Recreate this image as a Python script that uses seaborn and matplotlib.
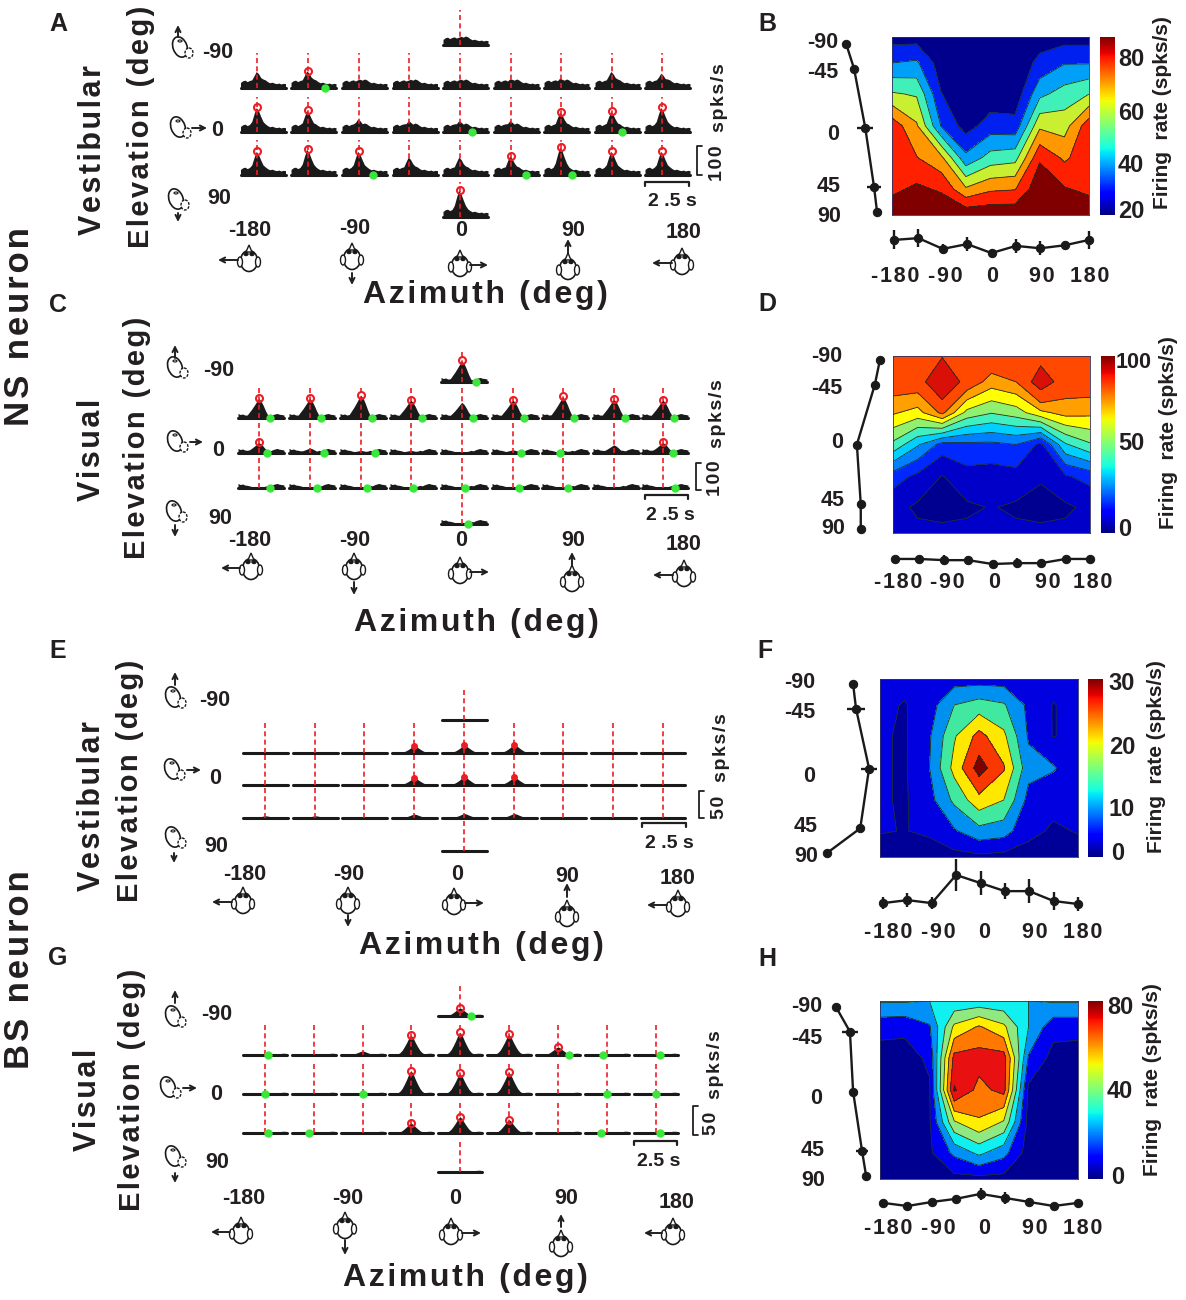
import numpy as np
import matplotlib
matplotlib.use("Agg")
import matplotlib.pyplot as plt
import seaborn as sns
from matplotlib.cm import ScalarMappable
from matplotlib.colors import Normalize
from matplotlib.patches import Ellipse, Polygon

W, H = 1186, 1300

# psth time axis, 21 bins over 2.5 s
TIME = np.arange(21) * 0.125

# psth shapes read from the cells, background in spks/s, peak normalised
BASE_A = [19, 25, 27, 22, 26, 28, 24, 27, 30, 27, 31, 28, 22, 18, 20, 17, 15, 17, 14, 16, 15]
BASE_C = [17, 13, 15, 11, 10, 8, 5, 3, 2, 2, 3, 5, 7, 10, 8, 12, 15, 17, 14, 13, 11]
BASE_E = [1.5, 1.5, 1.8, 1.5, 1.6, 2, 1.5, 1.5, 1.8, 1.6, 1.5, 1.8, 2, 1.5, 1.5, 1.8, 2, 1.5, 1.6, 2.1, 2]
BASE_G = [1, 1.5, 1, 1.2, 1, .8, .8, .6, .6, .5, .5, .6, .6, .8, 1, 1.3, 2, 2.5, 3, 3, 2.5]
PEAK_A = [0, 0, .04, .1, .22, .42, .72, .98, .85, .62, .42, .25, .13, .06, .02, 0, 0, 0, 0, 0, 0]
PEAK_C = [0, 0, 0, .05, .15, .3, .45, .62, .8, .98, .85, .62, .35, .12, 0, 0, 0, 0, 0, 0, 0]
PEAK_E = [0, 0, 0, 0, .06, .14, .26, .42, .62, .85, 1, .88, .66, .46, .28, .14, .06, .02, 0, 0, 0]
PEAK_G = [0, 0, 0, 0, .05, .12, .24, .42, .62, .85, 1, .85, .62, .42, .24, .12, .05, 0, 0, 0, 0]

# peak height per cell (spks/s), rows are -90, -45, 0, 45, 90 elevation
HEIGHT_A = [[25], [58, 60, 29, 25, 29, 32, 35, 58, 52], [86, 75, 46, 40, 40, 40, 69, 71, 86],
            [83, 90, 83, 63, 63, 67, 98, 83, 83], [94]]
HEIGHT_C = [[81], [75, 75, 88, 69, 60, 69, 81, 72, 69], [40, 19, 10, 10, 6, 12, 10, 31, 40],
            [6, 6, 6, 6, 6, 6, 6, 6, 6], [6]]
HEIGHT_E = [[3], [2, 2, 2, 13, 14, 15, 2, 2, 2], [2, 2, 2, 13, 15, 14, 2.5, 2.5, 2.5],
            [4, 4, 2, 7, 8, 8, 2, 2, 3], [3]]
HEIGHT_G = [[14], [2, 2, 7, 34, 39, 35, 14, 2, 2], [2, 2, 2, 40, 35, 37, 2, 2, 2],
            [2, 2, 2, 17, 28, 23, 2, 2, 2], [3]]

# cells with a red (peak) circle
RED_A = [[], [1], [0, 1, 6, 7, 8], [0, 1, 2, 5, 6, 7, 8], [0]]
RED_C = [[0], [0, 1, 2, 3, 5, 6, 7, 8], [0, 8], [], []]
RED_E = [[], [3, 4, 5], [3, 4, 5], [], []]
RED_G = [[0], [3, 4, 5, 6], [3, 4, 5], [3, 4, 5], []]

# green (trough) circles: row, cell, time in s
GREEN_A = [(1, 1, 1.9), (2, 4, 1.6), (2, 7, 1.5), (3, 2, 1.7), (3, 5, 1.75), (3, 6, 1.55)]
GREEN_C = [(0, 0, 1.9), (1, 0, 1.75), (1, 1, 1.75), (1, 2, 1.75), (1, 3, 1.75), (1, 4, 1.75),
           (1, 5, 1.75), (1, 6, 1.75), (1, 7, 1.75), (1, 8, 1.75),
           (2, 0, 1.6), (2, 1, 1.9), (2, 2, 1.9), (2, 5, 1.6), (2, 6, 1.0), (2, 8, 1.7),
           (3, 0, 1.75), (3, 1, 1.5), (3, 2, 1.45), (3, 3, 1.25), (3, 4, 1.3), (3, 5, 1.45),
           (3, 6, 1.4), (3, 8, 1.8), (4, 0, 1.45)]
GREEN_E = []
GREEN_G = [(0, 0, 1.9), (1, 0, 1.4), (1, 6, 1.9), (1, 7, 1.0), (1, 8, 1.5),
           (2, 0, 1.25), (2, 2, 1.25), (2, 7, 1.25), (2, 8, 1.25),
           (3, 0, 1.4), (3, 1, 1.0), (3, 7, .9), (3, 8, 1.5)]

# contour grids, rows run from -90 to 90 with two extra rows read between
AZIMUTH = [-180, -135, -90, -45, 0, 45, 90, 135, 180]
ROW_POS = [0, .146, .32, .5, .68, .854, 1]
Z_B = [[25, 25, 25, 25, 25, 25, 25, 25, 25],
       [37.5, 39, 24, 23, 23, 23, 31, 37, 37],
       [56, 54, 29, 23, 23, 23, 44, 50, 55],
       [78, 65, 37, 25, 33, 32, 62, 60, 78],
       [78, 73, 66, 40, 50, 52, 80, 71, 78],
       [79, 83, 80, 65, 71, 72, 88, 82, 79],
       [88, 88, 88, 88, 88, 88, 88, 88, 88]]
Z_D = [[78, 78, 84, 78, 80, 78, 80, 78, 78],
       [78, 78, 100, 79, 68, 72, 93, 78, 78],
       [65, 61, 74, 53.5, 48.5, 52, 62, 67, 66],
       [46, 33, 21, 22, 22, 24, 14, 39, 47],
       [20, 14, 6.5, 13, 12, 13, 8, 15, 19],
       [10, 5.5, 4, 5.5, 7.5, 5.5, 4, 5.5, 9],
       [9, 9, 9, 9, 9, 9, 9, 9, 9]]
Z_F = [[5, 5, 5.5, 6, 6, 6, 5.5, 5, 5],
       [4.5, 3.2, 6, 12.5, 14.5, 13, 7, 3.3, 5],
       [4, 3, 7.5, 16.5, 23, 18, 7.5, 3.3, 5],
       [4, 3, 8, 18.5, 28, 22, 9.5, 8.5, 5],
       [4, 3, 6.5, 13.5, 20, 17, 6.5, 4.5, 5],
       [3.7, 3.4, 4, 7.5, 11, 10, 4.5, 3, 3.7],
       [2, 2, 2, 2, 2.5, 2, 2, 2, 2]]
Z_H = [[28, 28, 27, 29, 30, 29, 27, 28, 28],
       [12, 11, 17, 47, 55, 47, 27, 12, 12],
       [5, 5.5, 10.5, 66, 67, 67, 17, 6, 5],
       [4, 4, 8, 73, 60, 66, 7, 4, 4],
       [4, 4, 8, 44, 53, 44, 6, 4, 4],
       [4, 4, 7.5, 20, 29, 21, 5, 4, 4],
       [4, 4, 5, 6, 6, 6, 5, 4, 4]]

LEVELS_B = [0, 28.75, 37.5, 46.25, 55, 63.75, 72.5, 81.25, 100]
COLORS_B = ["#00008c", "#0020f0", "#00a0f8", "#40f0b8", "#c8f030", "#ff9800", "#ff2000", "#800000"]
LEVELS_D = [0, 7, 16, 24, 32, 40, 48, 56, 64, 72, 85, 110]
COLORS_D = ["#000090", "#0000c8", "#0028ff", "#0080ff", "#00d0ff", "#40f0c0", "#90f070",
            "#ffff00", "#ffa000", "#ff4800", "#d81008"]
LEVELS_F = [0, 3.5, 8, 12.5, 17, 21.5, 26, 40]
COLORS_F = ["#000098", "#0000e0", "#0090f0", "#40e8a0", "#ffe800", "#f83800", "#800000"]
LEVELS_H = [0, 9, 18, 27, 36, 45, 54, 63, 72, 100]
COLORS_H = ["#000090", "#0000f0", "#0090f8", "#10f0f0", "#90e880", "#ffee00", "#ff7800", "#e81010", "#800000"]

# marginal tuning curves (spks/s)
ELEV_POS = [0, .146, .5, .854, 1]
ELEV_RATE_B = [25, 41, 64, 82, 88]
ELEV_ERR_B = [0, 7.5, 16, 14, 0]
AZ_RATE_B = [62, 65, 47, 55, 40, 52, 48, 53, 62]
AZ_ERR_B = [16, 15, 8, 12, 7, 12, 12, 8, 15]
ELEV_RATE_D = [85, 68, 8, 21, 21]
ELEV_ERR_D = [0, 13, 13, 13, 0]
AZ_RATE_D = [47, 47, 43, 43, 30, 33, 33, 47, 47]
AZ_ERR_D = [3, 3, 17, 13, 3, 17, 10, 3, 3]
ELEV_RATE_F = [9.2, 9.9, 13, 10.9, 3]
ELEV_ERR_F = [0, 2.1, 1.9, 1, 0]
AZ_RATE_F = [3.3, 4.3, 3.3, 12.7, 10, 7.3, 7.3, 4, 3]
AZ_ERR_F = [2, 2.3, 2, 5.3, 4, 2.7, 4, 3, 2.3]
ELEV_RATE_H = [10, 41, 48, 68, 77]
ELEV_ERR_H = [0, 18, 6, 13, 0]
AZ_RATE_H = [17, 10, 19, 26, 37, 28, 19, 10, 17]
AZ_ERR_H = [7, 7, 7, 7, 13, 13, 7, 7, 7]

AZ_LABELS = ["-180", "-90", "0", "90", "180"]
ELEV_LABELS = ["-90", "0", "90"]
ELEV_LABELS_R = ["-90", "-45", "0", "45", "90"]

sns.set_theme(style="white")
plt.rcParams["font.family"] = ["Liberation Sans", "DejaVu Sans"]
plt.rcParams["font.weight"] = "bold"
TXT = "#231f20"

fig = plt.figure(figsize=(W / 100, H / 100), dpi=100)


def px_axes(x0, y0, x1, y1, z=1):
    # axes from pixel box, y measured from the top of the image
    ax = fig.add_axes([x0 / W, 1 - y1 / H, (x1 - x0) / W, (y1 - y0) / H], zorder=z)
    ax.patch.set_alpha(0)
    return ax


over = px_axes(0, 0, W, H, z=10)
over.set_xlim(0, W)
over.set_ylim(H, 0)
over.axis("off")


def label(x, y, s, size=13, rot=0, ha="center"):
    over.text(x, y, s, fontsize=size, rotation=rot, ha=ha, va="center", color=TXT,
              fontweight="bold", rotation_mode="anchor")


def spaced(s):
    return "\u200a".join(s)


def arrow(x0, y0, x1, y1):
    over.annotate("", xy=(x1, y1), xytext=(x0, y0),
                  arrowprops=dict(arrowstyle="->", color=TXT, lw=1.4, mutation_scale=9,
                                  shrinkA=0, shrinkB=0))


def top_head(x, y):
    over.add_patch(Ellipse((x, y + 1), 17, 21, fc="white", ec="k", lw=1.2))
    over.add_patch(Ellipse((x - 9, y + 2), 5, 10, fc="white", ec="k", lw=1))
    over.add_patch(Ellipse((x + 9, y + 2), 5, 10, fc="white", ec="k", lw=1))
    over.add_patch(Polygon([(x - 3, y - 8), (x, y - 15), (x + 3, y - 8)], fc="white", ec="k", lw=1))
    over.add_patch(Ellipse((x - 3, y - 6), 4, 3, fc="k", ec="k"))
    over.add_patch(Ellipse((x + 3, y - 6), 4, 3, fc="k", ec="k"))


def side_head(x, y):
    over.add_patch(Ellipse((x - 2, y - 1), 14, 21, angle=-20, fc="white", ec="k", lw=1.2))
    over.add_patch(Ellipse((x + 7, y + 5), 8, 10, fc="white", ec="k", lw=1, ls=(0, (2, 1))))
    over.add_patch(Ellipse((x - 2, y - 7), 4, 2, fc="none", ec="k", lw=.8))


def psth_panel(xs, cell_w, rows, cell_h, per_unit, heights, base, peak, red_t, reds, greens, red_fill="none", red_ms=5):
    for r, row_h in enumerate(heights):
        for c, h_val in enumerate(row_h):
            x0 = xs[4] if len(row_h) == 1 else xs[c]
            y1 = rows[r]
            ax = px_axes(x0, y1 - cell_h, x0 + cell_w, y1, z=2)
            vals = np.maximum(np.array(base), h_val * np.array(peak))
            ax.fill_between(TIME, 0, vals, color="k", lw=0)
            ax.axhline(0, color="k", lw=2.2, clip_on=False)
            ax.axvline(red_t, color="#ee1c25", lw=1.2, ls=(0, (3, 2)))
            if c in reds[r]:
                ax.plot(red_t, h_val, "o", ms=red_ms, mfc=red_fill, mec="#ee1c25", mew=1.5, clip_on=False)
            for g_r, g_c, g_t in greens:
                if g_r == r and g_c == c:
                    ax.plot(g_t, 0, "o", ms=5, mfc="#39e83a", mec="#39e83a", mew=1, clip_on=False)
            ax.set_xlim(0, 2.5)
            ax.set_ylim(0, cell_h / per_unit)
            ax.axis("off")


def contour_panel(box, cbar_box, z, levels, colors, cmin, cmax):
    ax = px_axes(*box, z=2)
    ax.contourf(AZIMUTH, ROW_POS, z, levels=levels, colors=colors)
    ax.contour(AZIMUTH, ROW_POS, z, levels=levels[1:-1], colors="#203020", linewidths=.6)
    ax.set_ylim(1, 0)
    ax.set_xticks([])
    ax.set_yticks([])
    for s in ax.spines.values():
        s.set_linewidth(.6)
        s.set_color("#303060")
    cax = px_axes(*cbar_box, z=2)
    cb = fig.colorbar(ScalarMappable(Normalize(cmin, cmax), "jet"), cax=cax)
    cb.outline.set_visible(False)
    cb.set_ticks([])


def elev_tuning(box, rate, err, xlim):
    ax = px_axes(*box, z=3)
    sns.lineplot(x=rate, y=ELEV_POS, ax=ax, color="k", lw=1.7, sort=False, estimator=None,
                 marker="o", ms=6, mec="k", legend=False)
    ax.errorbar(rate, ELEV_POS, xerr=err, fmt="none", ecolor="k", elinewidth=1.7, clip_on=False)
    ax.set_xlim(*xlim)
    ax.set_ylim(1, 0)
    ax.axis("off")
    for a in ax.get_children():
        a.set_clip_on(False)


def az_tuning(box, rate, err, ylim):
    ax = px_axes(*box, z=3)
    sns.lineplot(x=AZIMUTH, y=rate, ax=ax, color="k", lw=1.7, estimator=None,
                 marker="o", ms=6, mec="k", legend=False)
    ax.errorbar(AZIMUTH, rate, yerr=err, fmt="none", ecolor="k", elinewidth=1.7, capsize=0)
    ax.set_xlim(-180, 180)
    ax.set_ylim(*ylim)
    ax.axis("off")
    for a in ax.get_children():
        a.set_clip_on(False)


def scale_bars(vx, vy0, vy1, hx0, hx1, hy):
    over.plot([vx + 5, vx, vx, vx + 5], [vy0, vy0, vy1, vy1], color=TXT, lw=1.3)
    over.plot([hx0, hx0, hx1, hx1], [hy + 4, hy, hy, hy + 4], color=TXT, lw=1.6)


# ---- PSTH grids ----
psth_panel([240.5, 291, 342, 392.5, 443, 494, 544, 595, 645], 45, [45, 88, 132, 175, 217], 35, .29,
           HEIGHT_A, BASE_A, PEAK_A, .925, RED_A, GREEN_A)
psth_panel([238, 289, 340, 390, 441, 492, 542, 593, 642], 46, [382, 418, 453, 488, 524], 30, .267,
           HEIGHT_C, BASE_C, PEAK_C, 1.15, RED_C, GREEN_C)
psth_panel([243, 293, 342, 392, 442, 492, 541, 591, 641], 44.5, [720, 753, 785, 818, 851], 32, .554,
           HEIGHT_E, BASE_E, PEAK_E, 1.24, RED_E, GREEN_E, red_fill="#ee1c25", red_ms=3.5)
psth_panel([243, 291.5, 340.5, 389, 438, 487, 536, 585, 633.5], 44, [1016, 1055, 1094, 1133, 1172], 32, .586,
           HEIGHT_G, BASE_G, PEAK_G, 1.25, RED_G, GREEN_G)

# ---- contour maps and tuning curves ----
contour_panel((892, 37, 1089, 215), (1100, 37, 1115, 215), Z_B, LEVELS_B, COLORS_B, 19, 89)
contour_panel((893, 356, 1090, 533), (1101, 356, 1115, 533), Z_D, LEVELS_D, COLORS_D, -2, 104)
contour_panel((880, 679, 1078, 857), (1088, 679, 1103, 857), Z_F, LEVELS_F, COLORS_F, 0, 31)
contour_panel((880, 1001, 1078, 1179), (1088, 1001, 1103, 1179), Z_H, LEVELS_H, COLORS_H, 0, 86)

elev_tuning((830, 44, 880, 212), ELEV_RATE_B, ELEV_ERR_B, (-8, 94))
elev_tuning((850, 360, 885, 529), ELEV_RATE_D, ELEV_ERR_D, (-15, 102))
elev_tuning((820, 684, 880, 853), ELEV_RATE_F, ELEV_ERR_F, (1.33, 15.6))
elev_tuning((830, 1007, 872, 1176), ELEV_RATE_H, ELEV_ERR_H, (-3.3, 90))

az_tuning((894, 225, 1089, 265), AZ_RATE_B, AZ_ERR_B, (20, 87))
az_tuning((895, 550, 1090, 570), AZ_RATE_D, AZ_ERR_D, (10, 77))
az_tuning((883, 860, 1078, 915), AZ_RATE_F, AZ_ERR_F, (-.67, 17.7))
az_tuning((883, 1190, 1078, 1212), AZ_RATE_H, AZ_ERR_H, (-3.3, 45.6))

# ---- text ----
for s, x, y in [("A", 58, 24), ("B", 767, 24), ("C", 58, 305), ("D", 767, 304),
                ("E", 58, 651), ("F", 765, 651), ("G", 58, 958), ("H", 767, 959)]:
    label(x, y, s, 18)

label(20, 327, spaced("NS neuron"), 25, 90)
label(20, 970, spaced("BS neuron"), 25, 90)

for s, x, y in [("Vestibular", 93, 150), ("Visual", 92, 450), ("Vestibular", 92, 806), ("Visual", 88, 1100)]:
    label(x, y, spaced(s), 22, 90)
for x, y in [(141, 127), (137, 438), (130, 781), (132, 1090)]:
    label(x, y, spaced("Elevation (deg)"), 21, 90)
for x, y in [(485, 295), (476, 623), (481, 946), (465, 1278)]:
    label(x, y, spaced("Azimuth (deg)"), 23)

for xs, ys in [([250, 355, 461, 573, 684], [230, 229, 231, 231, 233]),
               ([250, 355, 461, 573, 684], [540, 540, 540, 541, 544]),
               ([245, 349, 457, 567, 678], [875, 875, 875, 877, 878]),
               ([244, 348, 455, 566, 677], [1198, 1198, 1198, 1199, 1202])]:
    for s, x, y in zip(AZ_LABELS, xs, ys):
        label(x, y, s, 15.5)

for xs, ys in [([218, 217, 219], [52, 131, 199]), ([219, 218, 220], [371, 450, 518]),
               ([215, 215, 216], [700, 779, 847]), ([217, 216, 217], [1015, 1094, 1162])]:
    for s, x, y in zip(ELEV_LABELS, xs, ys):
        label(x, y, s, 15.5)

for x, y in [(719, 98), (717, 414), (722, 748), (715, 1065)]:
    label(x, y, spaced("spks/s"), 14, 90)
for s, x, y in [("100", 717, 163), ("100", 715, 478), ("50", 719, 807), ("50", 712, 1123)]:
    label(x, y, spaced(s), 14, 90)
for s, x, y in [("2 .5 s", 672, 202), ("2 .5 s", 670, 515), ("2 .5 s", 669, 843), ("2.5 s", 659, 1162)]:
    label(x, y, s, 14)

scale_bars(697, 146, 175, 645, 689, 182)
scale_bars(696, 463, 490, 645, 688, 495)
scale_bars(699, 791, 818, 642, 686, 823)
scale_bars(693, 1106, 1135, 634, 677, 1141)

# right column tick labels
for xs, ys in [([823, 823, 833, 829, 829], [42, 73, 135, 186, 216]),
               ([827, 827, 837, 833, 833], [356, 388, 442, 500, 529]),
               ([800, 800, 809, 806, 806], [682, 713, 776, 826, 856]),
               ([807, 807, 816, 813, 813], [1006, 1039, 1099, 1150, 1180])]:
    for s, x, y in zip(ELEV_LABELS_R, xs, ys):
        label(x, y, s, 15.5)
for xs, y in [([895, 945, 992, 1042, 1090], 276), ([898, 947, 994, 1048, 1093], 583),
              ([888, 938, 984, 1035, 1083], 932), ([888, 938, 984, 1035, 1083], 1228)]:
    for s, x in zip(AZ_LABELS, xs):
        label(x, y, spaced(s), 15.5)

for s, x, y in [("80", 1131, 60), ("60", 1131, 113), ("40", 1131, 165), ("20", 1131, 211),
                ("50", 1131, 444), ("0", 1125, 529),
                ("30", 1122, 684), ("20", 1122, 747), ("10", 1122, 810), ("0", 1118, 853),
                ("80", 1120, 1008), ("40", 1120, 1092), ("0", 1118, 1178)]:
    label(x, y, s, 17)
label(1134, 362, "100", 15.5)
for x, y in [(1163, 113), (1169, 433), (1157, 757), (1152, 1080)]:
    label(x, y, "Firing  rate (spks/s)", 15, 90)

# ---- head icons, top view with heading arrows ----
for hx, hy, ax0, ay0, ax1, ay1 in [
        (249, 260, 238, 260, 218, 260), (352, 258, 352, 273, 352, 285),
        (460, 265, 470, 265, 488, 265), (568, 268, 568, 253, 568, 239), (682, 263, 672, 263, 652, 263),
        (251, 568, 240, 568, 221, 568), (354, 568, 354, 582, 354, 595),
        (460, 572, 470, 572, 489, 572), (572, 580, 572, 565, 572, 552), (684, 575, 673, 575, 653, 575),
        (243, 902, 232, 902, 212, 902), (348, 902, 348, 915, 348, 927),
        (454, 903, 465, 903, 484, 903), (567, 915, 567, 897, 567, 883), (678, 905, 667, 905, 647, 905),
        (241, 1232, 230, 1232, 211, 1232), (345, 1227, 345, 1240, 345, 1255),
        (451, 1233, 462, 1233, 481, 1233), (561, 1245, 561, 1227, 561, 1214), (673, 1233, 662, 1233, 644, 1233)]:
    top_head(hx, hy)
    arrow(ax0, ay0, ax1, ay1)

# side view heads
for hx, hy, ax0, ay0, ax1, ay1 in [
        (182, 48, 178, 37, 178, 25), (180, 128, 192, 128, 207, 128), (178, 200, 178, 213, 178, 222),
        (177, 368, 175, 358, 175, 345), (177, 442, 190, 442, 203, 442), (176, 512, 175, 525, 175, 537),
        (175, 698, 175, 685, 175, 672), (174, 770, 187, 770, 201, 770), (175, 838, 174, 853, 174, 863),
        (175, 1017, 175, 1003, 175, 990), (170, 1088, 183, 1088, 197, 1088), (175, 1157, 175, 1173, 175, 1183)]:
    side_head(hx, hy)
    arrow(ax0, ay0, ax1, ay1)

fig.savefig("out.png", dpi=100)
